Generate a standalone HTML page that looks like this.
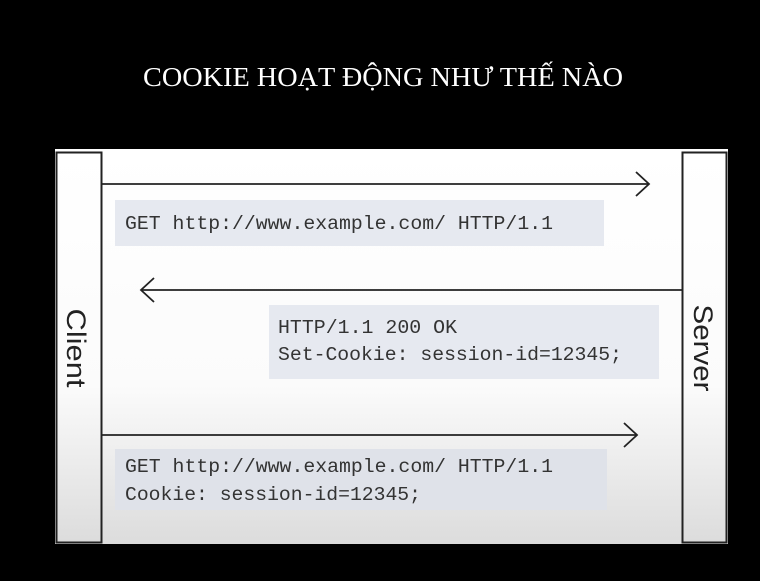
<!DOCTYPE html>
<html><head><meta charset="utf-8"><style>
html,body{margin:0;padding:0;background:#000;}
svg{display:block}
</style></head><body>
<svg width="760" height="581" viewBox="0 0 760 581" xmlns="http://www.w3.org/2000/svg">
<defs>
<linearGradient id="g" x1="0" y1="0" x2="0" y2="1">
<stop offset="0" stop-color="#ffffff"/>
<stop offset="0.6" stop-color="#fbfbfb"/>
<stop offset="1" stop-color="#dcdcdc"/>
</linearGradient>
</defs>
<rect width="760" height="581" fill="#000"/>
<text x="383" y="86" text-anchor="middle" fill="#fff" font-family="Liberation Serif, serif" font-size="27" textLength="480" lengthAdjust="spacingAndGlyphs">COOKIE HOẠT ĐỘNG NHƯ THẾ NÀO</text>
<rect x="55" y="149" width="673" height="395" fill="url(#g)"/>
<rect x="56.5" y="152.5" width="45" height="390" fill="url(#g)" stroke="#222" stroke-width="2"/>
<rect x="682.5" y="152.5" width="44" height="390" fill="url(#g)" stroke="#222" stroke-width="2"/>
<text transform="translate(67,348) rotate(90)" text-anchor="middle" fill="#222" font-family="Liberation Sans, sans-serif" font-size="27" textLength="79" lengthAdjust="spacingAndGlyphs">Client</text>
<text transform="translate(694,348) rotate(90)" text-anchor="middle" fill="#222" font-family="Liberation Sans, sans-serif" font-size="27" textLength="87" lengthAdjust="spacingAndGlyphs">Server</text>
<g stroke="#222" stroke-width="1.8" fill="none">
<line x1="101" y1="184" x2="649" y2="184"/>
<polyline points="636,172 649,184 636,196"/>
<line x1="141" y1="290" x2="682" y2="290"/>
<polyline points="154,278 141,290 154,302"/>
<line x1="101" y1="435" x2="637" y2="435"/>
<polyline points="624,423 637,435 624,447"/>
</g>
<rect x="115" y="200" width="489" height="46" fill="#e6e9f0"/>
<rect x="269" y="305" width="390" height="74" fill="#e6e9f0"/>
<rect x="115" y="449" width="492" height="61" fill="#dfe2e9"/>
<g fill="#333" font-family="Liberation Mono, monospace" font-size="19.5">
<text x="125" y="229" textLength="428" lengthAdjust="spacingAndGlyphs">GET http://www.example.com/ HTTP/1.1</text>
<text x="278" y="333" textLength="179" lengthAdjust="spacingAndGlyphs">HTTP/1.1 200 OK</text>
<text x="278" y="360" textLength="344" lengthAdjust="spacingAndGlyphs">Set-Cookie: session-id=12345;</text>
<text x="125" y="472" textLength="428" lengthAdjust="spacingAndGlyphs">GET http://www.example.com/ HTTP/1.1</text>
<text x="125" y="500" textLength="296" lengthAdjust="spacingAndGlyphs">Cookie: session-id=12345;</text>
</g>
</svg>
</body></html>
